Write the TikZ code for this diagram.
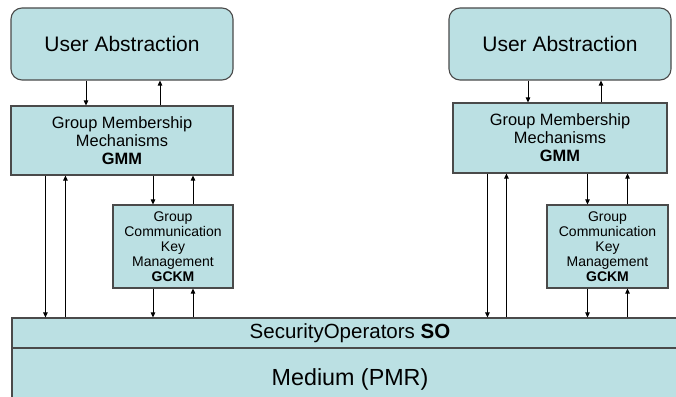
\documentclass[tikz,border=0pt]{standalone}
\usepackage{fontspec}
\setmainfont{Liberation Sans}
\usetikzlibrary{arrows.meta, positioning, calc}
\definecolor{boxfill}{HTML}{BBE0E3}
\definecolor{boxline}{HTML}{4A4A4A}

\begin{document}
\begin{tikzpicture}[x=1pt, y=-1pt,
  ua/.style={draw=boxline, line width=1.1pt, rounded corners=11pt, fill=boxfill,
             minimum width=222pt, minimum height=72pt, inner sep=0pt,
             font=\fontsize{21}{25}\selectfont},
  gmm/.style={draw=boxline, line width=1.1pt, fill=boxfill, align=center,
              minimum width=222pt, minimum height=69pt, inner sep=0pt,
              font=\fontsize{16.4}{18}\selectfont},
  gckm/.style={draw=boxline, line width=1.1pt, fill=boxfill, align=center,
               minimum width=120pt, minimum height=83pt, inner sep=0pt,
               font=\fontsize{14}{15}\selectfont},
  layer/.style={draw=boxline, line width=1.1pt, fill=boxfill,
                minimum width=676pt, inner sep=0pt},
  arr/.style={-{Triangle[length=5pt, width=4.5pt]}, line width=0.8pt, color=black}
]
\clip (0,0) rectangle (676,396);

% bottom layers
\node[layer, minimum height=62pt, font=\fontsize{23.3}{27}\selectfont] (med) at (350,379) {Medium (PMR)};
\node[layer, minimum height=30pt, font=\fontsize{20.5}{24}\selectfont] (so) at (350,333) {SecurityOperators \textbf{SO}};

% left stack
\node[ua]  (ua1)   at (122,44)      {User Abstraction};
\node[gmm] (gmm1)  at (122,140.5)   {Group Membership\\Mechanisms\\\textbf{GMM}};
\node[gckm] (gckm1) at (173,246.5)  {Group\\Communication\\Key\\Management\\\textbf{GCKM}};

% right stack
\node[ua]  (ua2)   at (560,44)      {User Abstraction};
\node[gmm, minimum width=214pt, minimum height=70pt] (gmm2) at (560,138) {Group Membership\\Mechanisms\\\textbf{GMM}};
\node[gckm, minimum width=121pt] (gckm2) at (607.5,246.5) {Group\\Communication\\Key\\Management\\\textbf{GCKM}};

% user abstraction <-> GMM
\draw[arr] ([xshift=-36pt]ua1.south) -- ([xshift=-36pt]ua1.south |- gmm1.north);
\draw[arr] ([xshift=38pt]gmm1.north) -- ([xshift=38pt]gmm1.north |- ua1.south);
\draw[arr] ([xshift=-32pt]ua2.south) -- ([xshift=-32pt]ua2.south |- gmm2.north);
\draw[arr] ([xshift=41pt]gmm2.north) -- ([xshift=41pt]gmm2.north |- ua2.south);

% GMM <-> SO
\draw[arr] ([xshift=35pt]gmm1.south west) -- ([xshift=35pt]gmm1.south west |- so.north);
\draw[arr] ([xshift=55pt]gmm1.south west |- so.north) -- ([xshift=55pt]gmm1.south west);
\draw[arr] ([xshift=35pt]gmm2.south west) -- ([xshift=35pt]gmm2.south west |- so.north);
\draw[arr] ([xshift=54pt]gmm2.south west |- so.north) -- ([xshift=54pt]gmm2.south west);

% GMM <-> GCKM <-> SO
\foreach \g/\k in {gmm1/gckm1, gmm2/gckm2} {
  \draw[arr] ([xshift=-20pt]\k.north |- \g.south) -- ([xshift=-20pt]\k.north);
  \draw[arr] ([xshift=20pt]\k.north) -- ([xshift=20pt]\k.north |- \g.south);
  \draw[arr] ([xshift=-20pt]\k.south) -- ([xshift=-20pt]\k.south |- so.north);
  \draw[arr] ([xshift=20pt]\k.south |- so.north) -- ([xshift=20pt]\k.south);
}
\end{tikzpicture}
\end{document}
